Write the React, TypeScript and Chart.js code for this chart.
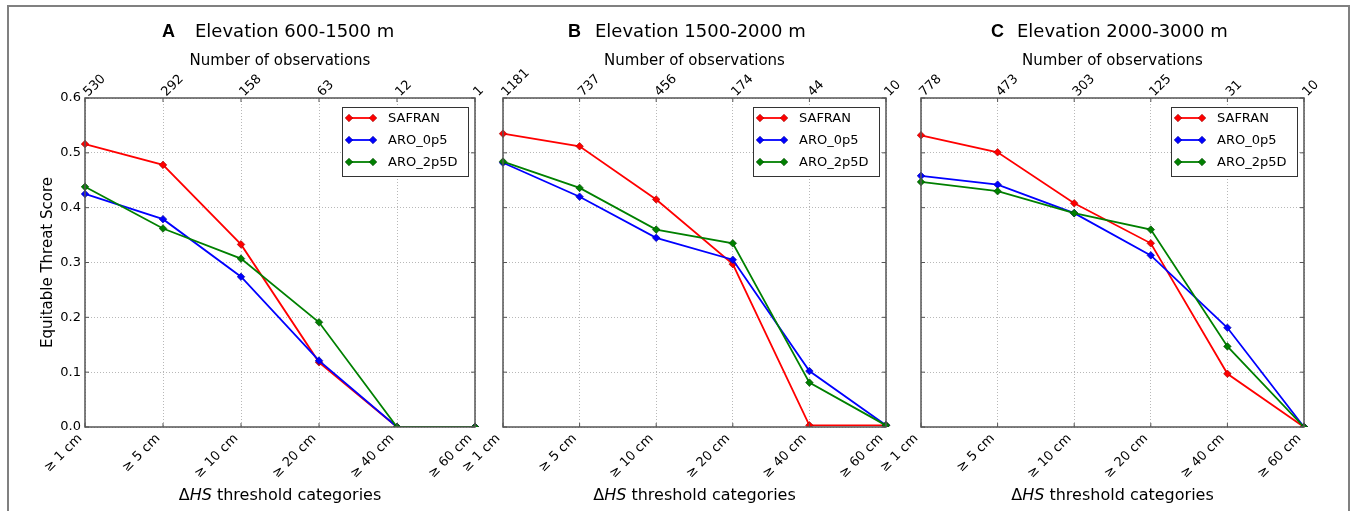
import React, { useEffect, useRef } from "react";
import { Chart, registerables } from "chart.js";

Chart.register(...registerables);

// ---------------- data ----------------
const thresholdLabels = ["≥ 1 cm", "≥ 5 cm", "≥ 10 cm", "≥ 20 cm", "≥ 40 cm", "≥ 60 cm"];
const seriesNames = ["SAFRAN", "ARO_0p5", "ARO_2p5D"];
const panelLetters = ["A", "B", "C"];
const panelTitles = ["Elevation 600-1500 m", "Elevation 1500-2000 m", "Elevation 2000-3000 m"];
const obsTitle = "Number of observations";
const yAxisTitle = "Equitable Threat Score";
const xTitleParts = ["Δ", "HS", " threshold categories"];

const obsA = ["530", "292", "158", "63", "12", "1"];
const obsB = ["1181", "737", "456", "174", "44", "10"];
const obsC = ["778", "473", "303", "125", "31", "10"];

const safranA = [0.516, 0.478, 0.333, 0.118, 0.0, 0.0];
const aro0p5A = [0.425, 0.379, 0.274, 0.121, 0.0, 0.0];
const aro2p5dA = [0.438, 0.362, 0.307, 0.191, 0.0, 0.0];

const safranB = [0.535, 0.512, 0.415, 0.297, 0.003, 0.003];
const aro0p5B = [0.482, 0.42, 0.345, 0.305, 0.102, 0.003];
const aro2p5dB = [0.484, 0.436, 0.36, 0.335, 0.081, 0.003];

const safranC = [0.532, 0.501, 0.408, 0.335, 0.097, 0.0];
const aro0p5C = [0.458, 0.442, 0.39, 0.313, 0.181, 0.0];
const aro2p5dC = [0.447, 0.43, 0.39, 0.36, 0.147, 0.0];

const yMin = 0;
const yMax = 0.6;
const yStep = 0.1;

// ---------------- styles / layout ----------------
const seriesColors = ["#ff0000", "#0000ff", "#008000"];
const seriesEdge = ["#990000", "#000099", "#004000"];
const W = 1357;
const H = 511;
const plotLefts = [85, 503, 921];
const plotRights = [475, 886, 1304];
const plotTop = 98;
const plotBottom = 427;
const letterXs = [162, 568, 991];
const titleXs = [195, 595, 1017];
const FONT = "'DejaVu Sans', 'Noto Sans', sans-serif";

const panelObs = [obsA, obsB, obsC];
const panelSeries = [
  [safranA, aro0p5A, aro2p5dA],
  [safranB, aro0p5B, aro2p5dB],
  [safranC, aro0p5C, aro2p5dC],
];

function diamond(ctx: CanvasRenderingContext2D, x: number, y: number, r: number) {
  ctx.beginPath();
  ctx.moveTo(x, y - r);
  ctx.lineTo(x + r, y);
  ctx.lineTo(x, y + r);
  ctx.lineTo(x - r, y);
  ctx.closePath();
}

const decorPlugin = {
  id: "panelDecor",
  afterDatasetsDraw(chart: any, _args: any, opts: any) {
    const { ctx, chartArea: a } = chart;
    ctx.save();
    // axes frame
    ctx.strokeStyle = "#555555";
    ctx.lineWidth = 1.5;
    ctx.strokeRect(a.left, a.top, a.right - a.left, a.bottom - a.top);
    // inward ticks
    const xs = chart.scales.x;
    const ys = chart.scales.y;
    ctx.lineWidth = 1;
    ctx.beginPath();
    xs.ticks.forEach((_t: any, i: number) => {
      const px = xs.getPixelForTick(i);
      ctx.moveTo(px, a.bottom);
      ctx.lineTo(px, a.bottom - 4);
      ctx.moveTo(px, a.top);
      ctx.lineTo(px, a.top + 4);
    });
    ys.ticks.forEach((_t: any, i: number) => {
      const py = ys.getPixelForTick(i);
      ctx.moveTo(a.left, py);
      ctx.lineTo(a.left + 4, py);
      ctx.moveTo(a.right, py);
      ctx.lineTo(a.right - 4, py);
    });
    ctx.stroke();

    // legend
    const bw = 126;
    const bh = 69;
    const bx = a.right - 7 - bw;
    const by = a.top + 9;
    ctx.fillStyle = "#ffffff";
    ctx.fillRect(bx, by, bw, bh);
    ctx.strokeStyle = "#333333";
    ctx.lineWidth = 1;
    ctx.strokeRect(bx + 0.5, by + 0.5, bw, bh);
    ctx.font = `13px ${FONT}`;
    ctx.textBaseline = "middle";
    ctx.textAlign = "left";
    chart.data.datasets.forEach((ds: any, i: number) => {
      const cy = by + 11 + i * 22;
      const x0 = bx + 7;
      const x1 = bx + 31;
      ctx.strokeStyle = ds.borderColor;
      ctx.lineWidth = 1.8;
      ctx.beginPath();
      ctx.moveTo(x0, cy);
      ctx.lineTo(x1, cy);
      ctx.stroke();
      ctx.fillStyle = ds.pointBackgroundColor;
      ctx.strokeStyle = ds.pointBorderColor;
      ctx.lineWidth = 0.6;
      [x0, x1].forEach((x) => {
        diamond(ctx, x, cy, 3.8);
        ctx.fill();
        ctx.stroke();
      });
      ctx.fillStyle = "#000000";
      ctx.fillText(ds.label, bx + 46, cy + 1);
    });
    ctx.restore();
  },
  afterDraw(chart: any, _args: any, opts: any) {
    const { ctx, chartArea: a } = chart;
    const cx = (a.left + a.right) / 2;
    ctx.save();
    ctx.fillStyle = "#000000";
    ctx.textBaseline = "alphabetic";
    ctx.textAlign = "left";
    // panel letter + title
    ctx.font = `bold 18px 'Liberation Sans', Arial, sans-serif`;
    ctx.fillText(opts.letter, opts.letterX, 37);
    ctx.font = `18px ${FONT}`;
    ctx.fillText(opts.title, opts.titleX, 37);
    // top axis title
    ctx.font = `15px ${FONT}`;
    ctx.textAlign = "center";
    ctx.fillText(opts.obsTitle, cx, 65);
    // bottom axis title with italic part
    ctx.textAlign = "left";
    const parts: string[] = opts.xTitle;
    const fonts = [`16px ${FONT}`, `italic 16px ${FONT}`, `16px ${FONT}`];
    let total = 0;
    const widths = parts.map((p, i) => {
      ctx.font = fonts[i];
      const w = ctx.measureText(p).width;
      total += w;
      return w;
    });
    let x = cx - total / 2;
    parts.forEach((p, i) => {
      ctx.font = fonts[i];
      ctx.fillText(p, x, 500);
      x += widths[i];
    });
    ctx.restore();
  },
};

function makeConfig(p: number): any {
  const showY = p === 0;
  return {
    type: "line",
    data: {
      labels: thresholdLabels,
      datasets: seriesNames.map((name, i) => ({
        label: name,
        data: panelSeries[p][i],
        borderColor: seriesColors[i],
        backgroundColor: seriesColors[i],
        pointBackgroundColor: seriesColors[i],
        pointBorderColor: seriesEdge[i],
        pointBorderWidth: 0.6,
        pointStyle: "rectRot",
        pointRadius: 3.8,
        borderWidth: 1.8,
        tension: 0,
        fill: false,
        order: 3 - i,
      })),
    },
    options: {
      responsive: false,
      animation: false,
      devicePixelRatio: 1,
      layout: { padding: { left: 0, top: 0, bottom: 0, right: W - plotRights[p] } },
      plugins: {
        legend: { display: false },
        tooltip: { enabled: false },
        title: { display: false },
        panelDecor: {
          letter: panelLetters[p],
          title: panelTitles[p],
          letterX: letterXs[p],
          titleX: titleXs[p],
          obsTitle: obsTitle,
          xTitle: xTitleParts,
        },
      },
      scales: {
        x: {
          type: "category",
          position: "bottom",
          offset: false,
          afterFit: (s: any) => {
            s.height = H - plotBottom;
          },
          grid: {
            display: true,
            drawTicks: false,
            color: "#b8b8b8",
            lineWidth: 1,
          },
          border: { display: false, dash: [1, 2] },
          ticks: {
            autoSkip: false,
            minRotation: 45,
            maxRotation: 45,
            padding: 4,
            labelOffset: -5,
            color: "#000000",
            font: { family: FONT, size: 13 },
          },
        },
        x2: {
          type: "category",
          position: "top",
          labels: panelObs[p],
          offset: false,
          afterFit: (s: any) => {
            s.height = plotTop;
          },
          grid: { display: false, drawTicks: false },
          border: { display: false },
          ticks: {
            autoSkip: false,
            minRotation: 45,
            maxRotation: 45,
            padding: -2,
            labelOffset: 12,
            color: "#000000",
            font: { family: FONT, size: 13 },
          },
        },
        y: {
          type: "linear",
          position: "left",
          min: yMin,
          max: yMax,
          afterFit: (s: any) => {
            s.width = plotLefts[p];
          },
          grid: {
            display: true,
            drawTicks: false,
            color: "#b8b8b8",
            lineWidth: 1,
          },
          border: { display: false, dash: [1, 2] },
          ticks: {
            display: showY,
            stepSize: yStep,
            padding: 4,
            color: "#000000",
            font: { family: FONT, size: 13 },
            callback: (v: any) => Number(v).toFixed(1),
          },
          title: {
            display: showY,
            text: yAxisTitle,
            color: "#000000",
            font: { family: FONT, size: 15 },
            padding: { top: 39, bottom: 0 },
          },
        },
      },
    },
    plugins: [decorPlugin],
  };
}

function Panel({ index }: { index: number }) {
  const ref = useRef<HTMLCanvasElement | null>(null);
  useEffect(() => {
    if (!ref.current) return;
    const chart = new Chart(ref.current, makeConfig(index));
    return () => chart.destroy();
  }, [index]);
  return (
    <canvas
      ref={ref}
      width={W}
      height={H}
      style={{ position: "absolute", left: 0, top: 0, width: W, height: H }}
    />
  );
}

export default function App() {
  return (
    <div
      style={{
        position: "absolute",
        left: 0,
        top: 0,
        width: W,
        height: H,
        overflow: "hidden",
        background: "#ffffff",
      }}
    >
      <div
        style={{
          position: "absolute",
          left: 7,
          top: 5,
          width: 1343,
          height: 600,
          border: "2px solid #808080",
          boxSizing: "border-box",
        }}
      />
      {[0, 1, 2].map((i) => (
        <Panel key={i} index={i} />
      ))}
    </div>
  );
}
